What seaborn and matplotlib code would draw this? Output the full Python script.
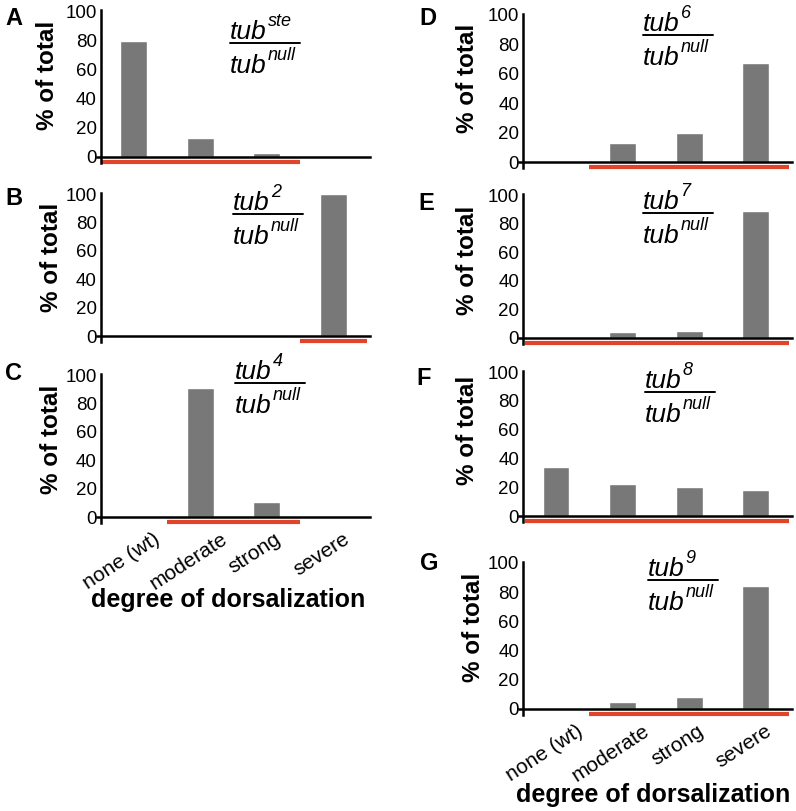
import numpy as np
import pandas as pd
import matplotlib
matplotlib.use('Agg')
import matplotlib.pyplot as plt
from matplotlib.transforms import ScaledTranslation
import seaborn as sns

#Data--------------------------------------------------------------------------------------------------------
categories = ['none (wt)', 'moderate', 'strong', 'severe']
panel_letters = ['A', 'B', 'C', 'D', 'E', 'F', 'G']
alleles = ['ste', '2', '4', '6', '7', '8', '9']
pct_A = [80, 13, 2.5, 0]
pct_B = [0, 0, 0, 100]
pct_C = [0, 91, 10.5, 0]
pct_D = [0, 13, 20, 67]
pct_E = [1, 4, 5, 89]
pct_F = [34, 22, 20, 18]
pct_G = [0, 5, 8, 84]
values = [pct_A, pct_B, pct_C, pct_D, pct_E, pct_F, pct_G]
# first and last category covered by the red range bar
ranges = [(0, 2), (3, 3), (1, 2), (1, 3), (0, 3), (0, 3), (1, 3)]

#Layout (pixels of the 796x811 picture)-----------------------------------------------------------------------
W, H = 796, 811
def fx(px):
    return px / W
def fy(py):
    return 1 - py / H

# left, top, bottom of each axes
axes_px = [(97, 10.5, 162.8), (97, 192.6, 341.7), (97, 373.6, 522.7),
           (519.4, 13.5, 167.9), (519.4, 193.6, 343.7), (519.4, 370.6, 521.8), (519.4, 561.5, 714.8)]
letter_px = [(14, 25), (14, 205), (14, 380), (428, 25), (426, 210), (424, 385), (429, 570)]
ylab_px = [(47, 75), (52, 257), (52, 439), (468, 78), (468, 260), (468, 430), (474, 627)]
geno_px = [(230, 43), (233, 214), (235, 383), (643, 35), (643, 213), (645, 392), (648, 580)]

sns.set_theme(style='white')
plt.rcParams['font.family'] = ['Liberation Sans', 'DejaVu Sans']
for k in ['text.color', 'axes.labelcolor', 'xtick.color', 'ytick.color']:
    plt.rcParams[k] = 'black'

bar_color = '#787878'
red = '#e0442a'

fig = plt.figure(figsize=(W / 100, H / 100), dpi=100)
renderer = fig.canvas.get_renderer()

def tub_label(x, y_base, sup):
    # italic "tub" with a superscript right after it, all in pixel coordinates
    t = fig.text(fx(x), fy(y_base), 'tub', fontsize=19, style='italic', ha='left', va='baseline')
    bb = t.get_window_extent(renderer)
    fig.text(fx(bb.x1 + 1), fy(y_base - 13), sup, fontsize=13, style='italic', ha='left', va='baseline')

#Panels-------------------------------------------------------------------------------------------------------
for i, letter in enumerate(panel_letters):
    left, top, bottom = axes_px[i]
    ax = fig.add_axes([fx(left), fy(bottom), 273 / W, (bottom - top) / H])
    df = pd.DataFrame({'degree': categories, 'pct': values[i]})
    sns.barplot(data=df, x='degree', y='pct', order=categories, color=bar_color,
                saturation=1, width=0.4, ax=ax)
    ax.set_xlim(-0.55, 3.55)
    ax.set_ylim(-4, 101)
    ax.spines['top'].set_visible(False)
    ax.spines['right'].set_visible(False)
    ax.spines['left'].set_position(('data', -0.49))
    ax.spines['bottom'].set_position(('data', 0))
    for s in ['left', 'bottom']:
        ax.spines[s].set_linewidth(1.8)
        ax.spines[s].set_color('black')
    ax.set_yticks(range(0, 101, 20))
    ax.tick_params(axis='y', length=0, pad=3, labelsize=13.5, labelcolor='black')
    ax.tick_params(axis='x', length=0, pad=9)
    ax.set_xlabel('')
    ax.set_ylabel('')
    if letter in ('C', 'G'):
        ax.set_xticks(range(len(categories)))
        ax.set_xticklabels(categories, rotation=33, fontsize=15, ha='center', va='top', color='black')
        for lab in ax.get_xticklabels():
            lab.set_transform(lab.get_transform() + ScaledTranslation(-0.12, 0, fig.dpi_scale_trans))
    else:
        ax.tick_params(axis='x', labelbottom=False)

    # red range bar under the axis
    lo, hi = ranges[i]
    x0 = lo - 0.5 if lo > 0 else -0.47
    ax.plot([x0, hi + 0.5], [-3.5, -3.5], color=red, lw=3, solid_capstyle='butt',
            clip_on=False, zorder=1)

    # genotype fraction
    gx, gy = geno_px[i]
    tub_label(gx, gy - 4, alleles[i])
    tub_label(gx, gy + 30, 'null')
    fig.add_artist(plt.Line2D([fx(gx), fx(gx + 70)], [fy(gy), fy(gy)], color='black', lw=1.4))

    lx, ly = letter_px[i]
    fig.text(fx(lx), fy(ly), letter, fontsize=17, fontweight='bold', ha='center', va='baseline')
    yx, yy = ylab_px[i]
    fig.text(fx(yx), fy(yy), '% of total', fontsize=17.5, fontweight='bold', rotation=90,
             ha='center', va='center')

fig.text(fx(228), fy(600), 'degree of dorsalization', fontsize=18, fontweight='bold', ha='center', va='center')
fig.text(fx(653), fy(795), 'degree of dorsalization', fontsize=18, fontweight='bold', ha='center', va='center')

fig.savefig('out.png', dpi=100)
